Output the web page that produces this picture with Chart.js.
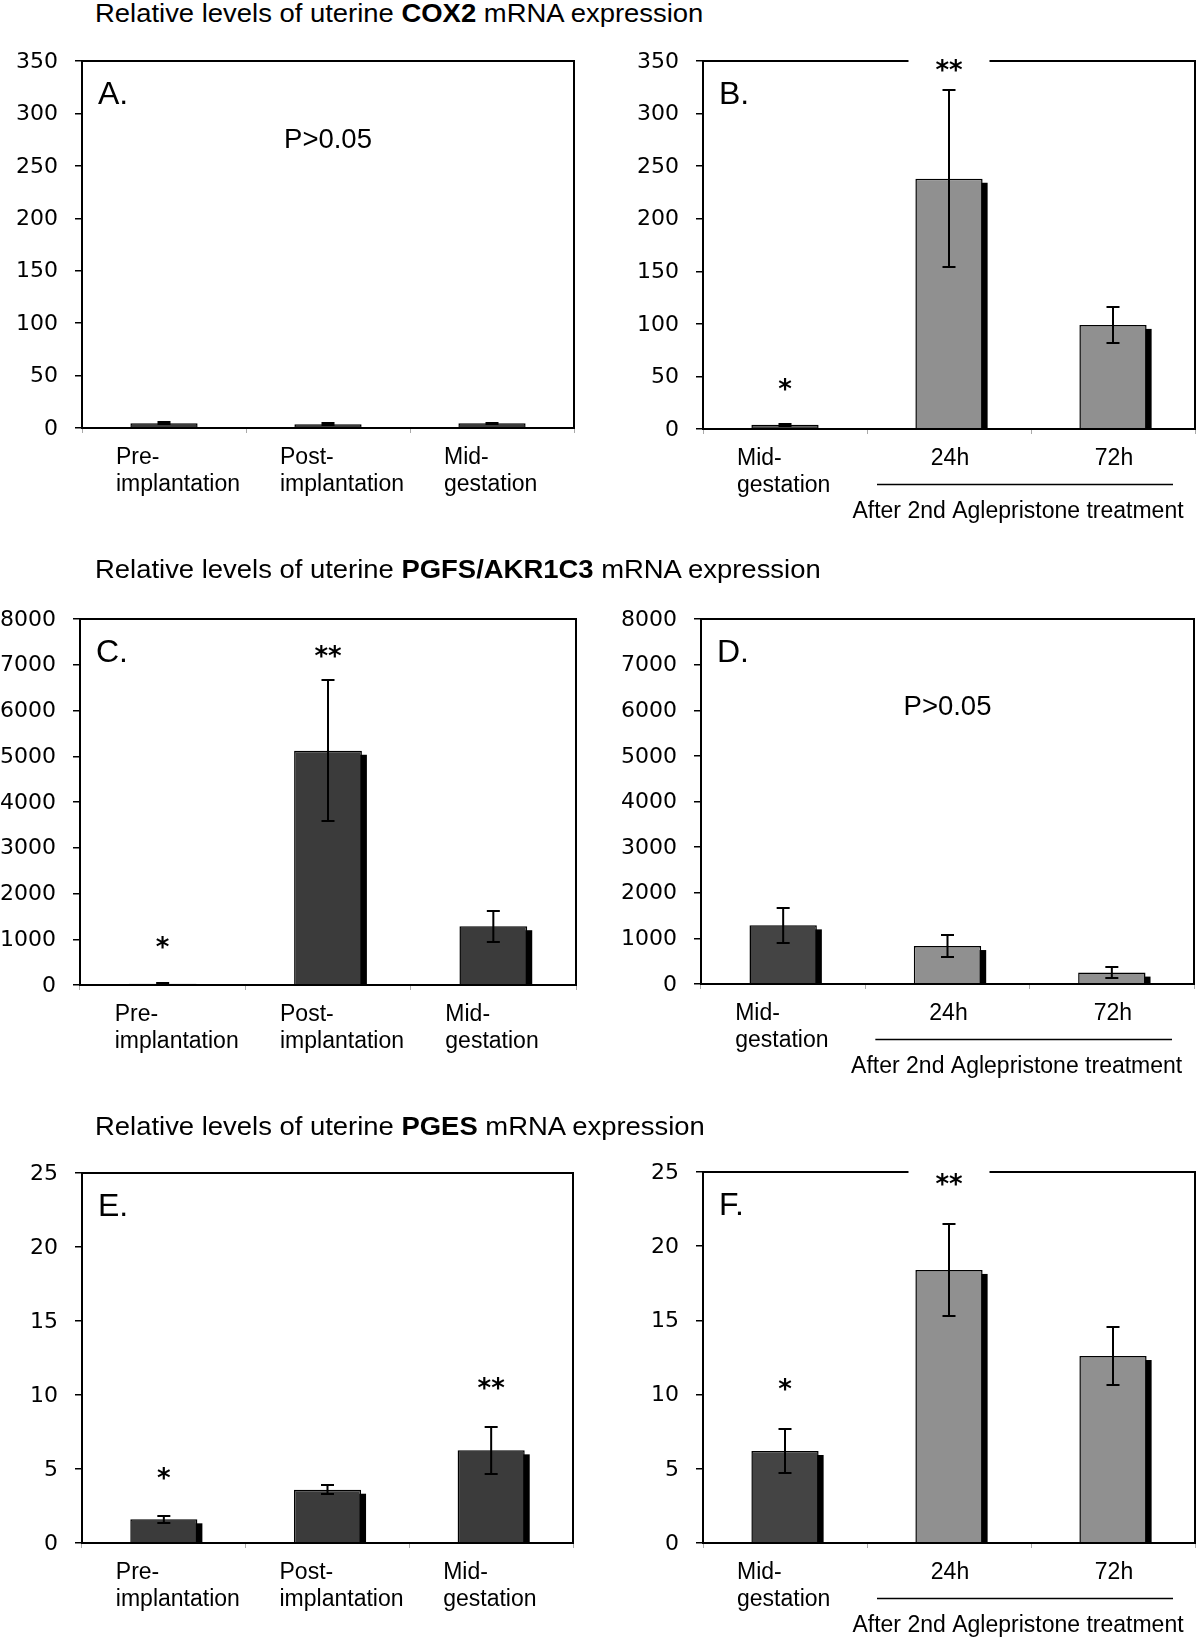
<!DOCTYPE html>
<html lang="en">
<head>
<meta charset="UTF-8">
<title>Relative levels of uterine COX2, PGFS/AKR1C3 and PGES mRNA expression</title>
<script src="https://cdn.jsdelivr.net/npm/chart.js@4.4.1/dist/chart.umd.min.js"></script>
<style>
  body { margin: 0; background: #fff; }
  #page { position: relative; width: 1200px; height: 1640px; overflow: hidden; background: #fff; }
  .title {
    position: absolute; left: 95px; z-index: 2;
    font-family: 'Liberation Sans', Arial, sans-serif; font-size: 26px; line-height: 30px;
    color: #000; white-space: nowrap;
    transform-origin: left center; transform: scaleX(1.055);
  }
  canvas { position: absolute; }
</style>
</head>
<body>
<div id="page">
  <div class="title" style="top:-2px">Relative levels of uterine <b>COX2</b> mRNA expression</div>
  <div class="title" style="top:554px">Relative levels of uterine <b>PGFS/AKR1C3</b> mRNA expression</div>
  <div class="title" style="top:1111px">Relative levels of uterine <b>PGES</b> mRNA expression</div>

  <canvas id="chartA" width="600" height="560" style="left:0;top:40px"></canvas>
  <canvas id="chartB" width="600" height="560" style="left:600px;top:40px"></canvas>
  <canvas id="chartC" width="600" height="540" style="left:0;top:595px"></canvas>
  <canvas id="chartD" width="600" height="540" style="left:600px;top:595px"></canvas>
  <canvas id="chartE" width="600" height="495" style="left:0;top:1145px"></canvas>
  <canvas id="chartF" width="600" height="495" style="left:600px;top:1145px"></canvas>
</div>

<script>
// categories
const stageLabels = [['Pre-', 'implantation'], ['Post-', 'implantation'], ['Mid-', 'gestation']];
const treatLabels = [['Mid-', 'gestation'], ['24h'], ['72h']];
const treatGroup = 'After 2nd Aglepristone treatment';

// y axes (max, step)
const cox2Axis = [350, 50];
const pgfsAxis = [8000, 1000];
const pgesAxis = [25, 5];

// COX2
const cox2Stage = [4.5, 3.5, 4.5];
const cox2StageErr = [0.8, 0.8, 0.4];
const cox2Treat = [4, 238, 99];
const cox2TreatErr = [1, 84, 17];

// PGFS/AKR1C3
const pgfsStage = [30, 5120, 1285];
const pgfsStageErr = [10, 1545, 340];
const pgfsTreat = [1285, 832, 250];
const pgfsTreatErr = [378, 242, 120];

// PGES
const pgesStage = [1.6, 3.6, 6.26];
const pgesStageErr = [0.23, 0.29, 1.6];
const pgesTreat = [6.2, 18.4, 12.6];
const pgesTreatErr = [1.5, 3.1, 1.95];

const dark = '#3b3b3b';
const grey = '#909090';
const stageColors = [dark, dark, dark];
const treatColors = ['#444444', grey, grey];

const starFont = { font: 'bold 26px "DejaVu Sans", Verdana, sans-serif', sx: 1 };
const pFont = { font: '27.5px "Liberation Sans", Arial, sans-serif', sx: 1 };
const labelFont = '23px "Liberation Sans", Arial, sans-serif';
const tickFont = '22px "DejaVu Sans", Verdana, sans-serif';

function drawText(ctx, text, x, y, align, sx) {
  const w = ctx.measureText(text).width * sx;
  const x0 = align === 'center' ? x - w / 2 : align === 'right' ? x - w : x;
  ctx.save();
  ctx.translate(x0, y);
  ctx.scale(sx, 1);
  ctx.textAlign = 'left';
  ctx.fillText(text, 0, 0);
  ctx.restore();
}

// shadows, error bars, frame, tick labels, letters, notes and wrapped category labels
const panelDecor = {
  id: 'panelDecor',
  beforeDatasetsDraw(chart) {
    const ctx = chart.ctx;
    ctx.save();
    ctx.fillStyle = '#000';
    chart.getDatasetMeta(0).data.forEach(bar => {
      const h = bar.base - bar.y - 4;
      if (h > 0) ctx.fillRect(bar.x - bar.width / 2 + 5, bar.y + 4, bar.width, h);
    });
    ctx.restore();
  },
  afterDatasetsDraw(chart, args, o) {
    const ctx = chart.ctx, y = chart.scales.y;
    const vals = chart.data.datasets[0].data;
    ctx.save();
    ctx.strokeStyle = '#000';
    ctx.lineWidth = 2;
    chart.getDatasetMeta(0).data.forEach((bar, i) => {
      const top = Math.round(y.getPixelForValue(vals[i] + o.errors[i]));
      const bot = Math.round(y.getPixelForValue(Math.max(0, vals[i] - o.errors[i])));
      ctx.beginPath();
      ctx.moveTo(bar.x, top); ctx.lineTo(bar.x, bot);
      ctx.moveTo(bar.x - 6.5, top); ctx.lineTo(bar.x + 6.5, top);
      ctx.moveTo(bar.x - 6.5, bot); ctx.lineTo(bar.x + 6.5, bot);
      ctx.stroke();
    });
    ctx.restore();
  },
  afterDraw(chart, args, o) {
    const ctx = chart.ctx, a = chart.chartArea, x = chart.scales.x, y = chart.scales.y;
    ctx.save();
    ctx.strokeStyle = '#000';
    ctx.lineWidth = 2;
    ctx.strokeRect(a.left, a.top, a.right - a.left, a.bottom - a.top);

    ctx.fillStyle = '#000';
    ctx.textBaseline = 'middle';
    ctx.font = tickFont;
    y.ticks.forEach(t => drawText(ctx, String(t.value), a.left - 24, y.getPixelForValue(t.value) + 1, 'right', 1));

    ctx.textBaseline = 'alphabetic';
    ctx.font = '32px "Liberation Sans", Arial, sans-serif';
    drawText(ctx, o.letter, a.left + 16, a.top + 43, 'left', 1);

    o.notes.forEach(n => {
      ctx.font = n.style.font;
      const px = x.getPixelForValue(n.cat), py = y.getPixelForValue(n.val);
      const m = ctx.measureText(n.text);
      if (n.gap) {
        ctx.fillStyle = '#fff';
        ctx.fillRect(px - n.gap / 2, a.top - 3, n.gap, 6);
        ctx.fillStyle = '#000';
      }
      drawText(ctx, n.text, px, py + (m.actualBoundingBoxAscent - m.actualBoundingBoxDescent) / 2, 'center', n.style.sx);
    });

    ctx.font = labelFont;
    chart.data.labels.forEach((lab, i) => {
      const cx = x.getPixelForValue(i);
      if (lab.length > 1) {
        lab.forEach((t, k) => drawText(ctx, t, cx - 48, a.bottom + 36 + 27 * k, 'left', 1));
      } else {
        drawText(ctx, lab[0], cx + 1, a.bottom + 36, 'center', 1);
      }
    });

    if (o.bracket) {
      const x0 = x.getPixelForValue(0.5) + 10, x1 = a.right - 22;
      ctx.lineWidth = 1.5;
      ctx.beginPath();
      ctx.moveTo(x0, a.bottom + 55.5); ctx.lineTo(x1, a.bottom + 55.5);
      ctx.stroke();
      drawText(ctx, o.bracket, (x0 + x1) / 2 - 7, a.bottom + 89, 'center', 1);
    }
    ctx.restore();
  }
};

function makePanel(id, letter, labels, values, errors, colors, axis, area, notes, bracket) {
  const canvas = document.getElementById(id);
  const W = canvas.width, H = canvas.height;
  return new Chart(canvas, {
    type: 'bar',
    data: {
      labels: labels,
      datasets: [{
        data: values,
        backgroundColor: colors,
        borderColor: '#000',
        borderWidth: 1.5,
        barPercentage: 0.41,
        categoryPercentage: 1
      }]
    },
    options: {
      responsive: false,
      animation: false,
      layout: { autoPadding: false, padding: { left: 0, top: area[1], right: W - area[2], bottom: 0 } },
      plugins: {
        legend: { display: false },
        tooltip: { enabled: false },
        panelDecor: { letter: letter, errors: errors, notes: notes, bracket: bracket }
      },
      scales: {
        x: {
          grid: { drawOnChartArea: false, tickLength: 5, color: '#aaa' },
          border: { display: false },
          ticks: { display: false },
          afterFit(s) { s.height = H - area[3]; }
        },
        y: {
          min: 0,
          max: axis[0],
          ticks: { stepSize: axis[1], display: false },
          grid: { drawOnChartArea: false, tickLength: 7, color: '#000', lineWidth: 1.5 },
          border: { display: false },
          afterFit(s) { s.width = area[0]; }
        }
      }
    },
    plugins: [panelDecor]
  });
}

makePanel('chartA', 'A.', stageLabels, cox2Stage, cox2StageErr, stageColors, cox2Axis,
  [82, 21, 574, 388],
  [{ text: 'P>0.05', cat: 1, val: 276, style: pFont }], null);

makePanel('chartB', 'B.', treatLabels, cox2Treat, cox2TreatErr, treatColors, cox2Axis,
  [103, 21, 595, 389],
  [{ text: '*', cat: 0, val: 42, style: starFont },
   { text: '**', cat: 1, val: 346, style: starFont, gap: 81 }], treatGroup);

makePanel('chartC', 'C.', stageLabels, pgfsStage, pgfsStageErr, stageColors, pgfsAxis,
  [80, 24, 576, 390],
  [{ text: '*', cat: 0, val: 930, style: starFont },
   { text: '**', cat: 1, val: 7300, style: starFont }], null);

makePanel('chartD', 'D.', treatLabels, pgfsTreat, pgfsTreatErr, treatColors, pgfsAxis,
  [101, 24, 594, 389],
  [{ text: 'P>0.05', cat: 1, val: 6096, style: pFont }], treatGroup);

makePanel('chartE', 'E.', stageLabels, pgesStage, pgesStageErr, stageColors, pgesAxis,
  [82, 28, 573, 398],
  [{ text: '*', cat: 0, val: 4.7, style: starFont },
   { text: '**', cat: 2, val: 10.8, style: starFont }], null);

makePanel('chartF', 'F.', treatLabels, pgesTreat, pgesTreatErr, treatColors, pgesAxis,
  [103, 27, 595, 398],
  [{ text: '*', cat: 0, val: 10.7, style: starFont },
   { text: '**', cat: 1, val: 24.5, style: starFont, gap: 81 }], treatGroup);
</script>
</body>
</html>
